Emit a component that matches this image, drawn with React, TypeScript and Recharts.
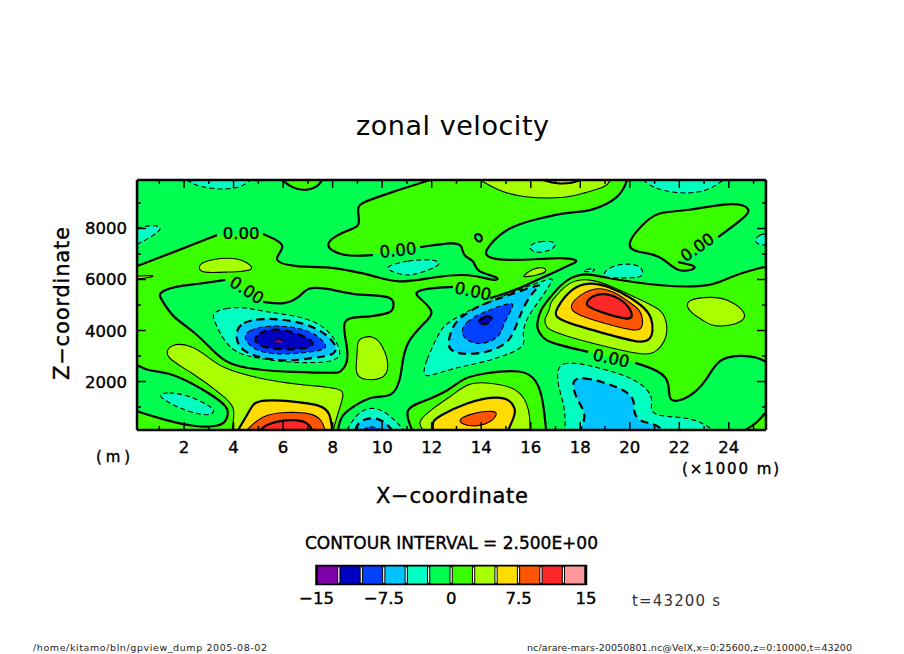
import { Bar, BarChart, Cell, ComposedChart, ReferenceArea, Scatter, XAxis, YAxis } from "recharts";

type Pt = [number, number];

// band colours, lower bound of the band -> fill
const bandColors: Record<string, string> = {
  "-15": "#8000a8",
  "-12.5": "#0000c0",
  "-10": "#0040ff",
  "-7.5": "#00c4ff",
  "-5": "#00ffc0",
  "-2.5": "#00ff50",
  "0": "#39ff00",
  "2.5": "#a8ff00",
  "5": "#ffdc00",
  "7.5": "#ff5500",
  "10": "#ff2828",
  "12.5": "#ff9999",
};

const xMajor = [2, 4, 6, 8, 10, 12, 14, 16, 18, 20, 22, 24];
const xMinor = [1, 3, 5, 7, 9, 11, 13, 15, 17, 19, 21, 23, 25];
const zMajor = [2000, 4000, 6000, 8000];
const zMinor = [1000, 3000, 5000, 7000, 9000];
const barLevels = [-13.75, -11.25, -8.75, -6.25, -3.75, -1.25, 1.25, 3.75, 6.25, 8.75, 11.25, 13.75];
const barBands = ["-15", "-12.5", "-10", "-7.5", "-5", "-2.5", "0", "2.5", "5", "7.5", "10", "12.5"];
const barTicks = [-15, -7.5, 0, 7.5, 15];

// contour outlines: [x in km, z in m]
const plotBox: Pt[] = [[0.1, 100], [0.1, 9900], [25.5, 9900], [25.5, 100]];

const topLeftA: Pt[] = [[3.33, 7740], [0.14, 6530], [0.1, 6530], [0.1, 9900], [11.94, 9900], [10.4, 9430], [9.11, 9000], [8.99, 8800], [9.11, 8140], [8.91, 8020], [8.3, 7820], [7.57, 7350], [8.38, 6880], [9.63, 6960]];
const topLeftB: Pt[] = [[11.53, 7270], [12.95, 7470], [13.23, 7350], [13.27, 6880], [13.75, 6760], [13.75, 6290], [14.76, 6100], [14.64, 5900], [13.55, 6250], [12.06, 6100], [10.64, 5820], [9.63, 6170], [8.3, 6410], [7.98, 6490], [6.36, 6490], [5.47, 6760], [6.28, 7350], [5.19, 7780]];
const topIsland: Pt[] = [[5.96, 9900], [6.36, 9590], [6.89, 9470], [7.41, 9630], [7.57, 9900]];
const tealTopLeft: Pt[] = [[2.12, 9900], [2.56, 9630], [3.66, 9510], [4.34, 9630], [4.67, 9900]];
const tealLeft: Pt[] = [[0.1, 8020], [0.75, 8140], [1.11, 8060], [0.95, 7820], [0.22, 7430], [0.1, 7390]];

const lowLeftLoop: Pt[] = [[5.19, 5120], [6.08, 5000], [6.68, 5310], [6.97, 5710], [7.69, 5670], [8.91, 5390], [9.63, 5390], [10.52, 5310], [10.44, 4800], [10.32, 4690], [9.51, 4530], [8.7, 4530], [8.42, 4330], [8.5, 3750], [8.62, 3160], [8.58, 2650], [8.3, 2370], [8.22, 2330], [6.36, 2370], [4.99, 2450], [3.78, 2650], [3.13, 3240], [2.44, 3940], [1.51, 4530], [1.11, 5200], [0.91, 5470], [1.64, 5740], [2.56, 5820], [3.66, 5980]];
const lowLeftTeal: Pt[] = [[3.09, 4690], [3.66, 4880], [4.46, 4920], [5.27, 4730], [6.36, 4610], [7.57, 4290], [8.22, 3510], [8.38, 2960], [7.82, 2730], [6.36, 2730], [4.87, 2920], [4.06, 3120], [3.53, 3710], [3.25, 4330]];
const lowLeftSky: Pt[] = [[4.06, 3940], [4.34, 4330], [5.15, 4490], [6.36, 4410], [7.41, 4100], [8.1, 3550], [8.22, 3040], [7.17, 2920], [6.08, 2770], [4.87, 2960], [4.18, 3310]];
const lowLeftBlue: Pt[] = [[4.38, 3710], [4.58, 4020], [5.39, 4210], [6.48, 4140], [7.29, 3900], [7.78, 3430], [7.69, 3240], [6.89, 3120], [5.67, 3040], [4.79, 3240]];
const lowLeftNavy: Pt[] = [[4.79, 3550], [4.95, 3900], [5.67, 4100], [6.6, 3900], [7.29, 3550], [7.17, 3310], [6.08, 3240], [5.27, 3310]];
const lowLeftPurple: Pt[] = [[5.5, 3490], [5.8, 3760], [6.12, 3490]];

const oliveUpper: Pt[] = [[2.56, 6450], [2.73, 6720], [3.78, 6880], [4.46, 6760], [4.99, 6330], [3.66, 6290], [2.73, 6250]];
const oliveEdge: Pt[] = [[0.1, 6130], [0.75, 6170], [0.79, 6100], [0.1, 6020]];

const cornerGreen: Pt[] = [[0.1, 2650], [0.55, 2410], [1.35, 2370], [2.32, 1940], [3.13, 1470], [3.78, 1000], [3.78, 690], [3.66, 370], [3.25, 220], [2.44, 220], [1.23, 490], [0.14, 810], [0.1, 850]];
const cornerTeal: Pt[] = [[0.83, 1470], [1.35, 1590], [2.16, 1470], [2.97, 1080], [3.25, 880], [3.13, 690], [2.65, 690], [1.76, 960]];

const domeLeftOlive: Pt[] = [[1.15, 2960], [1.43, 3510], [2.32, 3430], [2.97, 2960], [3.53, 2530], [4.87, 2140], [6.6, 1870], [8.38, 1750], [8.46, 1470], [8.22, 770], [8.02, 100], [3.94, 100], [3.98, 370], [4.06, 1000], [3.66, 1390], [2.32, 2370]];
const domeLeftYellow: Pt[] = [[4.18, 100], [4.67, 880], [4.87, 1310], [6.36, 1240], [7.57, 1080], [7.9, 770], [7.98, 100]];
const domeLeftOrange: Pt[] = [[4.54, 100], [5.15, 690], [6.08, 810], [7.17, 770], [7.57, 490], [7.69, 100]];
const domeLeftRed: Pt[] = [[5.07, 100], [5.39, 370], [6.36, 530], [7.01, 410], [7.17, 100]];

const oliveMiddle: Pt[] = [[9.11, 3710], [9.63, 3820], [10.04, 3430], [10.32, 2530], [10.04, 2060], [9.11, 2060], [8.91, 2370], [8.99, 2960], [8.99, 3510]];
const domeMidOlive: Pt[] = [[11.41, 410], [11.94, 880], [12.86, 1470], [13.43, 1940], [14.24, 1980], [15.57, 1750], [15.97, 880], [15.97, 100], [11.65, 100]];
const domeMidYellow: Pt[] = [[12.02, 410], [12.22, 610], [13.43, 1200], [14.64, 1430], [15.17, 1280], [15.37, 960], [15.37, 690], [15.09, 100], [12.06, 100]];
const domeMidOrange: Pt[] = [[12.95, 490], [13.67, 770], [14.56, 880], [14.68, 690], [14.24, 290], [13.43, 220]];

const tinyGreen: Pt[] = [[13.67, 7740], [13.96, 7820], [14.08, 7550], [13.87, 7430]];
const tealTongue: Pt[] = [[10.04, 6490], [11.01, 6760], [12.22, 6800], [12.42, 6570], [11.53, 6250], [11.01, 6130], [10.44, 6290]];

const rightA: Pt[] = [[14.36, 5270], [15.45, 5590], [16.5, 6100], [16.9, 6250], [17.47, 6530], [17.99, 6720], [17.59, 6840], [16.78, 6840], [15.05, 6720], [14.08, 6880], [14.24, 7270], [15.05, 8060], [16.38, 8410], [17.59, 8650], [18.4, 8650], [19.61, 9190], [19.89, 9900], [25.5, 9900], [25.5, 6490], [25.39, 6490], [24.05, 6130], [23.36, 5710], [21.35, 5710], [18.8, 6100], [18.28, 6250], [17.59, 6100], [17.1, 5670], [16.7, 5200], [16.38, 4800], [16.26, 4330], [16.26, 4020], [16.5, 3710], [16.78, 3510], [18.32, 3160]];
const rightB: Pt[] = [[20.22, 2730], [21.75, 2260], [21.43, 1080], [22.44, 1350], [23.12, 2060], [23.57, 2920], [24.46, 3040], [25.14, 2960], [25.5, 2770], [25.5, 810], [25.14, 370], [24.66, 100], [16.62, 100], [16.5, 1280], [16.26, 2060], [15.69, 2490], [14.08, 2330], [13.27, 2140], [12.74, 1670], [11.65, 1200], [10.85, 960], [11.21, 100], [8.22, 100], [8.3, 610], [8.78, 1000], [9.63, 1470], [10.44, 1350], [10.8, 2180], [10.85, 3550], [12.02, 4530], [12.02, 4800], [11.61, 5200], [11.21, 5510], [11.94, 5670], [12.86, 5710]];
const rightIsland: Pt[] = [[21.95, 6680], [22.72, 6530], [22.56, 6370], [21.91, 6290], [21.35, 6840], [20.82, 7040], [19.61, 7160], [20.74, 8410], [21.23, 8650], [22.31, 8690], [23.93, 9000], [24.66, 8920], [24.82, 8720], [24.78, 8530], [23.57, 7660]];

const lowMidTeal: Pt[] = [[11.65, 2260], [11.73, 2730], [12.34, 4020], [12.62, 4290], [13.67, 4880], [14.36, 5120], [15.17, 5470], [16.9, 6100], [16.9, 5980], [16.38, 5200], [15.85, 4530], [15.65, 3900], [15.77, 3510], [15.57, 3240], [14.24, 2770], [12.86, 2530], [11.85, 2180]];
const lowMidSky: Pt[] = [[16.5, 5860], [16.26, 5710], [15.77, 5080], [15.45, 4290], [15.17, 3550], [14.36, 3160], [13.43, 3040], [12.82, 3160], [12.62, 3430], [12.82, 4140], [13.15, 4530], [13.96, 5000], [14.76, 5270]];
const lowMidBlue: Pt[] = [[13.15, 3900], [13.35, 4330], [14.08, 4730], [14.88, 5000], [15.37, 5120], [15.17, 4730], [14.88, 4210], [14.76, 3750], [14.08, 3430], [13.47, 3550]];
const lowMidNavy: Pt[] = [[13.83, 4330], [14.16, 4610], [14.56, 4490], [14.24, 4210], [13.87, 4290]];

const lowBottomTeal: Pt[] = [[8.58, 100], [8.99, 770], [9.51, 1000], [10.04, 880], [10.6, 410], [10.85, 100]];
const lowBottomSky: Pt[] = [[8.91, 100], [9.03, 410], [9.51, 610], [10.04, 490], [10.4, 100]];
const lowBottomBlue: Pt[] = [[9.23, 100], [9.51, 290], [9.99, 100]];

const lowRightTeal: Pt[] = [[17.06, 2450], [17.27, 2730], [17.87, 2730], [18.8, 2530], [20.01, 2180], [20.7, 1750], [20.94, 1280], [20.82, 960], [21.02, 610], [22.56, 610], [23.36, 100], [17.39, 100], [17.39, 1000], [17.1, 1790]];
const lowRightSky: Pt[] = [[17.71, 2060], [18.07, 2180], [18.92, 1980], [19.81, 1670], [20.22, 1280], [20.13, 770], [20.42, 410], [20.94, 370], [21.35, 100], [17.99, 100], [18.28, 690], [17.87, 1280], [17.71, 1750]];

const tealSmallA: Pt[] = [[15.89, 7350], [16.38, 7510], [16.9, 7510], [17.06, 7310], [16.66, 7080], [16.05, 7040]];
const tealTopRight: Pt[] = [[20.54, 9900], [20.94, 9590], [21.91, 9350], [23.12, 9430], [23.77, 9900]];
const tealRight: Pt[] = [[24.98, 7510], [25.26, 7780], [25.5, 7780], [25.5, 7350], [25.26, 7350]];
const tealSmallB: Pt[] = [[18.84, 6100], [19.12, 6490], [19.89, 6650], [20.5, 6530], [20.58, 6100], [20.09, 6060], [19.33, 6060]];
const tealSmallC: Pt[] = [[18.07, 6370], [18.6, 6450], [18.6, 6330], [18.2, 6290]];
const oliveSliver: Pt[] = [[15.65, 6100], [16.09, 6450], [16.58, 6490], [16.66, 6290], [16.26, 6170], [15.77, 6100]];
const oliveRight: Pt[] = [[22.15, 5200], [23.36, 5350], [24.05, 5200], [24.74, 4690], [24.58, 4290], [23.36, 4100], [22.96, 4410], [22.44, 4690]];

const highOlive: Pt[] = [[16.78, 5080], [16.98, 5310], [17.51, 5900], [18.28, 6060], [19.21, 5780], [20.7, 5080], [21.31, 4800], [21.51, 4290], [21.51, 3710], [21.1, 3160], [20.7, 3040], [19.89, 3160], [17.47, 3750], [16.78, 4020], [16.66, 4100], [16.5, 4410], [16.78, 4800]];
const highYellow: Pt[] = [[16.98, 4800], [17.67, 5710], [18.4, 5900], [19.21, 5710], [20.01, 5310], [20.62, 4880], [20.9, 4490], [20.94, 3940], [20.82, 3630], [20.42, 3510], [19.49, 3750], [17.47, 4290], [16.98, 4530]];
const highOrange: Pt[] = [[17.47, 4920], [18.11, 5510], [18.8, 5710], [19.49, 5470], [20.13, 5000], [20.42, 4800], [20.54, 4410], [20.5, 4100], [20.3, 3940], [18.92, 4290], [17.87, 4610]];
const highRed: Pt[] = [[18.2, 5080], [18.52, 5390], [19, 5470], [19.61, 5270], [20.01, 4880], [20.13, 4530], [19.93, 4410], [18.92, 4690], [18.32, 4920]];

const topOlive: Pt[] = [[13.96, 9900], [14.64, 9510], [15.65, 9190], [17.59, 9190], [18.11, 9390], [19.08, 9630], [19.21, 9900]];
const topYellow: Pt[] = [[16.5, 9900], [17.06, 9740], [17.71, 9780], [17.99, 9900]];

const labelPoints: Pt[] = [[4.3, 7820], [10.64, 7160], [4.54, 5590], [13.67, 5550], [19.25, 2920], [22.72, 7270]];
const labelAngles = [0, -6, 33, 12, 12, -35];

// paint order matters: each region covers the band it sits inside.
// several rings (or open: true) mean the contour has a gap for its label
const regions: { band: number; rings: Pt[][]; open?: boolean }[] = [
  { band: -2.5, rings: [topLeftA, topLeftB], open: true },
  { band: 0, rings: [topIsland] },
  { band: -2.5, rings: [lowLeftLoop], open: true },
  { band: -2.5, rings: [cornerGreen] },
  { band: -2.5, rings: [rightA, rightB], open: true },
  { band: 0, rings: [rightIsland], open: true },
  { band: -2.5, rings: [tinyGreen] },
  { band: -5, rings: [tealTopLeft] },
  { band: -5, rings: [tealLeft] },
  { band: -5, rings: [tealTongue] },
  { band: -5, rings: [tealSmallA] },
  { band: -5, rings: [tealSmallB] },
  { band: -5, rings: [tealSmallC] },
  { band: -5, rings: [tealTopRight] },
  { band: -5, rings: [tealRight] },
  { band: -5, rings: [cornerTeal] },
  { band: -5, rings: [lowLeftTeal] },
  { band: -7.5, rings: [lowLeftSky] },
  { band: -10, rings: [lowLeftBlue] },
  { band: -12.5, rings: [lowLeftNavy] },
  { band: -15, rings: [lowLeftPurple] },
  { band: -5, rings: [lowMidTeal] },
  { band: -7.5, rings: [lowMidSky] },
  { band: -10, rings: [lowMidBlue] },
  { band: -12.5, rings: [lowMidNavy] },
  { band: -5, rings: [lowBottomTeal] },
  { band: -7.5, rings: [lowBottomSky] },
  { band: -10, rings: [lowBottomBlue] },
  { band: -5, rings: [lowRightTeal] },
  { band: -7.5, rings: [lowRightSky] },
  { band: 2.5, rings: [oliveUpper] },
  { band: 2.5, rings: [oliveEdge] },
  { band: 2.5, rings: [oliveMiddle] },
  { band: 2.5, rings: [oliveSliver] },
  { band: 2.5, rings: [oliveRight] },
  { band: 2.5, rings: [domeLeftOlive] },
  { band: 5, rings: [domeLeftYellow] },
  { band: 7.5, rings: [domeLeftOrange] },
  { band: 10, rings: [domeLeftRed] },
  { band: 2.5, rings: [domeMidOlive] },
  { band: 5, rings: [domeMidYellow] },
  { band: 7.5, rings: [domeMidOrange] },
  { band: 2.5, rings: [highOlive] },
  { band: 5, rings: [highYellow] },
  { band: 7.5, rings: [highOrange] },
  { band: 10, rings: [highRed] },
  { band: 2.5, rings: [topOlive] },
  { band: 5, rings: [topYellow] },
];

const FONT = "'DejaVu Sans', sans-serif";
const noMark = () => <g />;

// points on the plot edge are repeated so the rounded curve still reaches the frame
const onEdge = ([x, z]: Pt) => x <= 0.1 || x >= 25.5 || z <= 100 || z >= 9900;
const toRows = (pts: Pt[]) =>
  pts.flatMap((p) => {
    const row = { x: p[0], z: p[1] };
    return onEdge(p) ? [row, row, row] : [row];
  });

const strokeFor = (band: number) => {
  // the line sits on the band edge nearest zero
  const level = band < 0 ? band + 2.5 : band;
  const thick = level % 5 === 0;
  return {
    stroke: "#000",
    strokeWidth: thick ? 2.2 : 1.1,
    strokeDasharray: level < 0 ? (thick ? "8 5" : "5 3") : undefined,
    fill: "none",
  };
};

const renderRegion = (r: { band: number; rings: Pt[][]; open?: boolean }, i: number) => {
  const curve = r.open ? "basis" : "basisClosed";
  return [
    <Scatter
      key={`fill-${i}`}
      data={toRows(r.rings.flat())}
      dataKey="z"
      shape={noMark}
      line={{ fill: bandColors[String(r.band)], stroke: "none" }}
      lineJointType={curve}
      isAnimationActive={false}
    />,
    ...r.rings.map((ring, j) => (
      <Scatter
        key={`line-${i}-${j}`}
        data={toRows(ring)}
        dataKey="z"
        shape={noMark}
        line={strokeFor(r.band)}
        lineJointType={curve}
        isAnimationActive={false}
      />
    )),
  ];
};

const ContourLabel = (props: any) => {
  const { cx, cy, index } = props;
  return (
    <text
      x={cx}
      y={cy}
      dy={6}
      textAnchor="middle"
      fontFamily={FONT}
      fontSize={16.5}
      fill="#000"
      stroke="#000"
      strokeWidth={0.4}
      transform={`rotate(${labelAngles[index]} ${cx} ${cy})`}
    >
      0.00
    </text>
  );
};

const Txt = ({ x, y, w, size, fill = "#000", heavy = true, rotate, children }: any) => (
  <text
    x={x}
    y={y}
    fontFamily={FONT}
    fontSize={size}
    fill={fill}
    stroke={heavy ? fill : "none"}
    strokeWidth={heavy ? 0.4 : 0}
    textLength={w}
    lengthAdjust="spacing"
    transform={rotate ? `rotate(${rotate} ${x} ${y})` : undefined}
  >
    {children}
  </text>
);

const barData = barLevels.map((mid) => ({ mid, h: 1 }));
const formatBarTick = (v: number) => (v < 0 ? `\u2212${Math.abs(v)}` : `${v}`);

// axes have to keep a non-zero size or they are not drawn
const THIN = 0.01;
// scatter series paint above axes by default, ticks must stay on top
const AXIS_Z = 700;

const tickFont = { fontFamily: FONT, fontSize: 16.5, fill: "#000", stroke: "#000", strokeWidth: 0.4 };

// inward tick mark, drawn with the tick itself so it stays over the filled bands
const inwardTick = (side: "bottom" | "top" | "left" | "right", len: number, labelled = false) => (p: any) => {
  const dx = side === "left" ? 1 : side === "right" ? -1 : 0;
  const dy = side === "bottom" ? -1 : side === "top" ? 1 : 0;
  return (
    <g>
      <line x1={p.x} y1={p.y} x2={p.x + dx * len} y2={p.y + dy * len} stroke="#000" strokeWidth={1.5} />
      {labelled && side === "bottom" && (
        <text x={p.x} y={p.y + 23} textAnchor="middle" {...tickFont}>
          {p.payload.value}
        </text>
      )}
      {labelled && side === "left" && (
        <text x={p.x - 10} y={p.y + 6} textAnchor="end" {...tickFont}>
          {p.payload.value}
        </text>
      )}
    </g>
  );
};

export default function App() {
  const frame = { stroke: "#000", strokeWidth: 2.5 };
  const common = { allowDataOverflow: true, interval: 0 as const, tickSize: 0, tickMargin: 0, tickLine: false, zIndex: AXIS_Z };
  const xCommon = { ...common, dataKey: "x", type: "number" as const, domain: [0.1, 25.5], height: THIN };
  const zCommon = { ...common, dataKey: "z", type: "number" as const, domain: [100, 9900], width: THIN };
  return (
    <div style={{ position: "absolute", left: 0, top: 0, width: 904, height: 654, background: "#fff" }}>
      <div style={{ position: "absolute", left: 0, top: 0 }}>
        <ComposedChart width={904} height={654} margin={{ top: 180, right: 138, bottom: 224, left: 137 }}>
          <Scatter data={plotBox.map(([x, z]) => ({ x, z }))} dataKey="z" shape={noMark} line={{ fill: bandColors["0"], stroke: "none" }} isAnimationActive={false} />
          {regions.map(renderRegion)}
          <Scatter data={labelPoints.map(([x, z]) => ({ x, z }))} dataKey="z" shape={ContourLabel} isAnimationActive={false} />

          <XAxis {...xCommon} ticks={xMajor} tick={inwardTick("bottom", 8, true)} axisLine={frame} />
          <XAxis {...xCommon} xAxisId="xMinor" ticks={xMinor} tick={inwardTick("bottom", 4)} axisLine={false} />
          <XAxis {...xCommon} xAxisId="xTop" orientation="top" ticks={xMajor} tick={inwardTick("top", 8)} axisLine={frame} />
          <XAxis {...xCommon} xAxisId="xTopMinor" orientation="top" ticks={xMinor} tick={inwardTick("top", 4)} axisLine={false} />
          <YAxis {...zCommon} ticks={zMajor} tick={inwardTick("left", 9, true)} axisLine={frame} />
          <YAxis {...zCommon} yAxisId="zMinor" ticks={zMinor} tick={inwardTick("left", 4)} axisLine={false} />
          <YAxis {...zCommon} yAxisId="zRight" orientation="right" ticks={zMajor} tick={inwardTick("right", 9)} axisLine={frame} />
          <YAxis {...zCommon} yAxisId="zRightMinor" orientation="right" ticks={zMinor} tick={inwardTick("right", 4)} axisLine={false} />

          <Txt x={356} y={135} w={193} size={27} heavy={false}>zonal velocity</Txt>
          <Txt x={69} y={380} w={153} size={21} rotate={-90}>{"Z\u2212coordinate"}</Txt>
          <Txt x={376} y={503} w={152} size={21}>{"X\u2212coordinate"}</Txt>
          <Txt x={96} y={462} w={34} size={15}>(m)</Txt>
          <Txt x={682} y={474} w={97} size={15}>(×1000 m)</Txt>
          <Txt x={305} y={549} w={293} size={17}>CONTOUR INTERVAL = 2.500E+00</Txt>
          <Txt x={632} y={606} w={88} size={15} fill="#333" heavy={false}>t=43200 s</Txt>
          <Txt x={33} y={651} w={234} size={9.5} fill="#222" heavy={false}>/home/kitamo/bln/gpview_dump  2005-08-02</Txt>
          <Txt x={527} y={651} w={325} size={9.5} fill="#222" heavy={false}>nc/arare-mars-20050801.nc@VelX,x=0:25600,z=0:10000,t=43200</Txt>
        </ComposedChart>
      </div>
      <div style={{ position: "absolute", left: 0, top: 0 }}>
        <BarChart width={904} height={654} data={barData} margin={{ top: 566, right: 318, bottom: 70, left: 316.5 }}>
          <XAxis dataKey="mid" type="number" domain={[-15, 15]} allowDataOverflow height={THIN} ticks={barTicks} interval={0} tickFormatter={formatBarTick} tickLine={false} axisLine={false} tickMargin={2} tick={tickFont} />
          <YAxis type="number" domain={[0, 1]} hide />
          <Bar dataKey="h" barSize={22.5} stroke="#000" strokeWidth={1} isAnimationActive={false}>
            {barBands.map((b) => (
              <Cell key={b} fill={bandColors[b]} />
            ))}
          </Bar>
          <ReferenceArea x1={-15} x2={15} y1={0} y2={1} fill="none" stroke="#000" strokeWidth={2.5} fillOpacity={0} />
        </BarChart>
      </div>
    </div>
  );
}
